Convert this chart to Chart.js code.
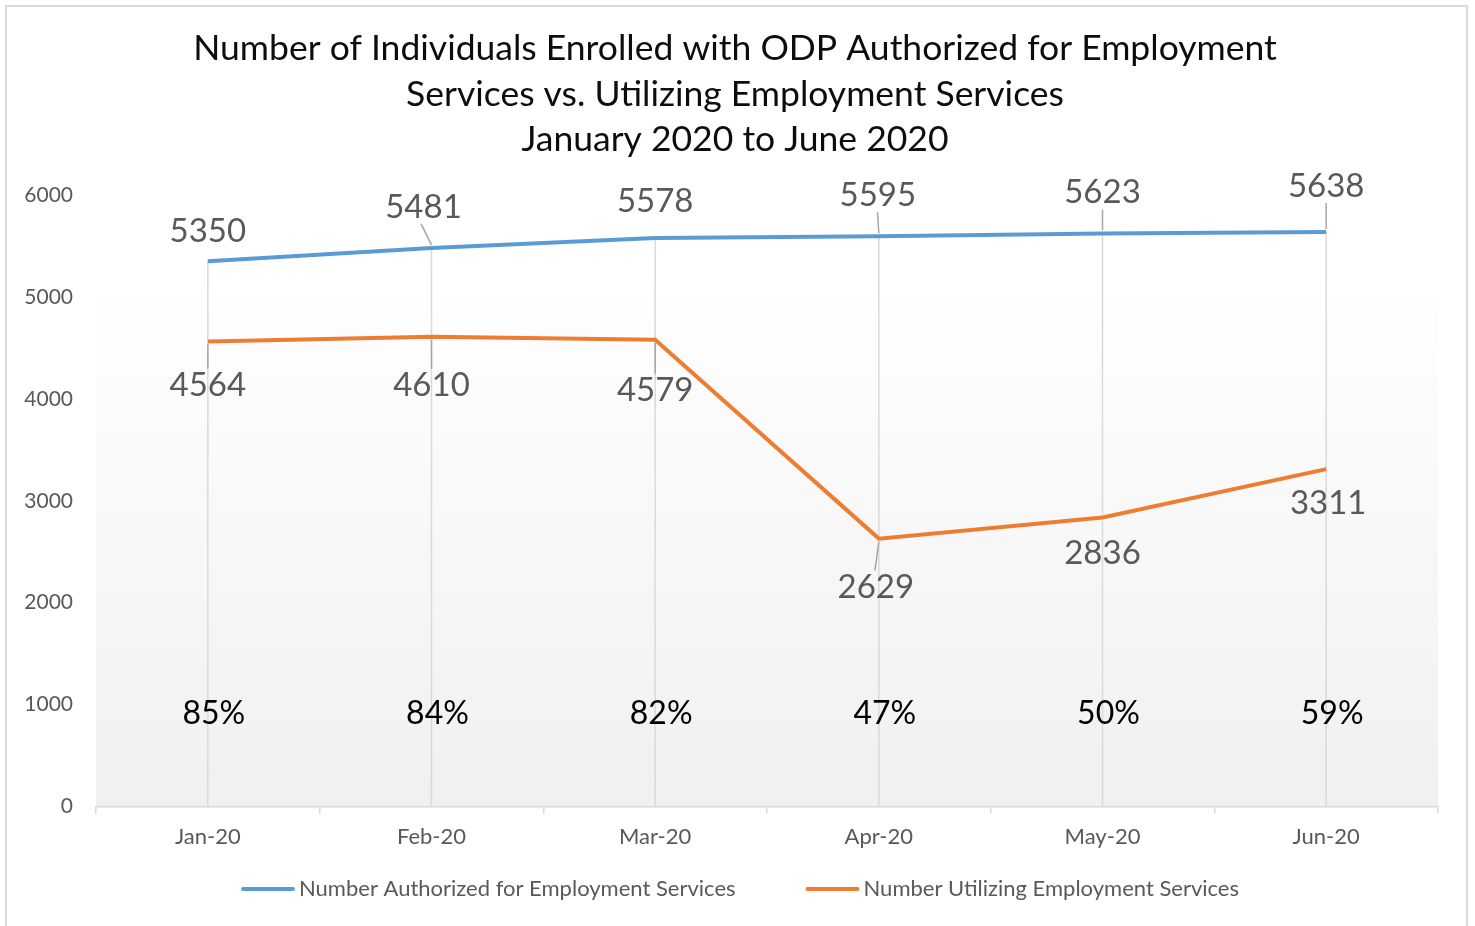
<!DOCTYPE html>
<html>
<head>
<meta charset="utf-8">
<script src="https://cdn.jsdelivr.net/npm/chart.js@4.4.1/dist/chart.umd.min.js"></script>
<style>
  html, body { margin: 0; padding: 0; background: #fff; }
  #wrap { width: 1475px; height: 926px; }
</style>
</head>
<body>
<div id="wrap"><canvas id="chart"></canvas></div>
<script>
// Chart data
const months = ['Jan-20', 'Feb-20', 'Mar-20', 'Apr-20', 'May-20', 'Jun-20'];
const authorized = [5350, 5481, 5578, 5595, 5623, 5638];
const utilizing = [4564, 4610, 4579, 2629, 2836, 3311];
const utilPercent = [85, 84, 82, 47, 50, 59];
const seriesNames = ['Number Authorized for Employment Services', 'Number Utilizing Employment Services'];
const titleLines = [
    'Number of Individuals Enrolled with ODP Authorized for Employment',
    'Services vs. Utilizing Employment Services',
    'January 2020 to June 2020'
];

const BLUE = '#5b9bd5';
const ORANGE = '#ed7d31';
const LABEL_GREY = '#595959';
const FONT = 'Lato, "Open Sans", sans-serif';

// label placement (style only): pixel shifts from each point
const labelShift = [
    [[0, -30], [-8, -41], [0, -37], [-1, -41], [0, -41], [0, -46]],
    [[0, 44], [0, 49], [0, 51], [-3, 49], [0, 36], [2, 34]]
];

// plot area background, outer border and title
const backgroundPlugin = {
    id: 'background',
    beforeDraw(chart) {
        const { ctx, chartArea: a } = chart;
        ctx.save();
        ctx.strokeStyle = '#d9d9d9';
        ctx.lineWidth = 2;
        ctx.strokeRect(6, 6, 1461, 940);
        const g = ctx.createLinearGradient(0, a.top, 0, a.bottom);
        g.addColorStop(0, '#ffffff');
        g.addColorStop(0.13, '#ffffff');
        g.addColorStop(1, '#f0f0f0');
        ctx.fillStyle = g;
        ctx.fillRect(a.left, a.top, a.right - a.left, a.bottom - a.top);

        ctx.fillStyle = '#0d0d0d';
        ctx.font = '35.5px ' + FONT;
        ctx.textAlign = 'center';
        ctx.textBaseline = 'middle';
        titleLines.forEach((t, i) => ctx.fillText(t, 735, 49 + i * 45.5));
        ctx.restore();
    }
};

// drop lines from the highest point down to the axis
const dropLinePlugin = {
    id: 'dropLines',
    beforeDatasetsDraw(chart) {
        const { ctx, chartArea: a } = chart;
        const m0 = chart.getDatasetMeta(0).data;
        const m1 = chart.getDatasetMeta(1).data;
        ctx.save();
        ctx.strokeStyle = '#d9d9d9';
        ctx.lineWidth = 1.5;
        m0.forEach((p, i) => {
            const top = Math.min(p.y, m1[i].y);
            ctx.beginPath();
            ctx.moveTo(p.x, top);
            ctx.lineTo(p.x, a.bottom);
            ctx.stroke();
        });
        ctx.restore();
    }
};

// data labels, leader lines, percentages, legend
const labelPlugin = {
    id: 'labels',
    afterDatasetsDraw(chart) {
        const { ctx, chartArea: a } = chart;
        ctx.save();
        ctx.textAlign = 'center';
        ctx.textBaseline = 'middle';
        ctx.font = '33px ' + FONT;
        [0, 1].forEach(d => {
            const meta = chart.getDatasetMeta(d);
            const values = chart.data.datasets[d].data;
            meta.data.forEach((p, i) => {
                const [dx, dy] = labelShift[d][i];
                const lx = p.x + dx, ly = p.y + dy;
                if (Math.abs(dy) > 38) {
                    const s = Math.sign(dy);
                    ctx.strokeStyle = '#a6a6a6';
                    ctx.lineWidth = 1.5;
                    ctx.beginPath();
                    ctx.moveTo(p.x, p.y + s * 3);
                    ctx.lineTo(lx + dx * 0.3, ly - s * 17);
                    ctx.stroke();
                }
                ctx.fillStyle = LABEL_GREY;
                ctx.fillText(values[i], lx, ly);
            });
        });

        // utilisation percentages
        ctx.font = '32px ' + FONT;
        ctx.fillStyle = '#000000';
        chart.getDatasetMeta(0).data.forEach((p, i) => {
            ctx.fillText(utilPercent[i] + '%', p.x + 6, a.bottom - 93);
        });

        // legend
        ctx.font = '22px ' + FONT;
        ctx.textAlign = 'left';
        const sample = 54, gap = 4, itemGap = 70;
        const widths = seriesNames.map(n => ctx.measureText(n).width);
        const total = widths.reduce((s, w) => s + sample + gap + w, 0) + itemGap;
        let x = 740 - total / 2;
        const y = 889;
        [BLUE, ORANGE].forEach((c, i) => {
            ctx.strokeStyle = c;
            ctx.lineWidth = 4;
            ctx.lineCap = 'round';
            ctx.beginPath();
            ctx.moveTo(x + 2, y);
            ctx.lineTo(x + sample - 2, y);
            ctx.stroke();
            ctx.fillStyle = LABEL_GREY;
            ctx.fillText(seriesNames[i], x + sample + gap, y);
            x += sample + gap + widths[i] + itemGap;
        });
        ctx.restore();
    }
};

new Chart(document.getElementById('chart'), {
    type: 'line',
    data: {
        labels: months,
        datasets: [
            {
                label: seriesNames[0],
                data: authorized,
                borderColor: BLUE,
                backgroundColor: BLUE,
                borderWidth: 4,
                pointRadius: 0,
                tension: 0,
                clip: false
            },
            {
                label: seriesNames[1],
                data: utilizing,
                borderColor: ORANGE,
                backgroundColor: ORANGE,
                borderWidth: 4,
                pointRadius: 0,
                tension: 0,
                clip: false
            }
        ]
    },
    options: {
        responsive: true,
        maintainAspectRatio: false,
        animation: false,
        layout: {
            padding: { left: 6, right: 37, top: 195, bottom: 66 }
        },
        plugins: {
            legend: { display: false },
            tooltip: { enabled: false },
            title: { display: false }
        },
        scales: {
            x: {
                offset: true,
                grid: {
                    offset: true,
                    drawOnChartArea: false,
                    color: '#d9d9d9',
                    tickLength: 7,
                    lineWidth: 1.5
                },
                border: { color: '#d9d9d9', width: 1.5 },
                ticks: {
                    color: LABEL_GREY,
                    padding: 10,
                    font: { family: FONT, size: 22 }
                }
            },
            y: {
                min: 0,
                max: 6000,
                afterFit(scale) { scale.width = 90; },
                grid: { display: false, drawTicks: false },
                border: { display: false },
                ticks: {
                    stepSize: 1000,
                    color: LABEL_GREY,
                    padding: 23,
                    font: { family: FONT, size: 21 },
                    callback: v => String(v)
                }
            }
        }
    },
    plugins: [backgroundPlugin, dropLinePlugin, labelPlugin]
});
</script>
</body>
</html>
